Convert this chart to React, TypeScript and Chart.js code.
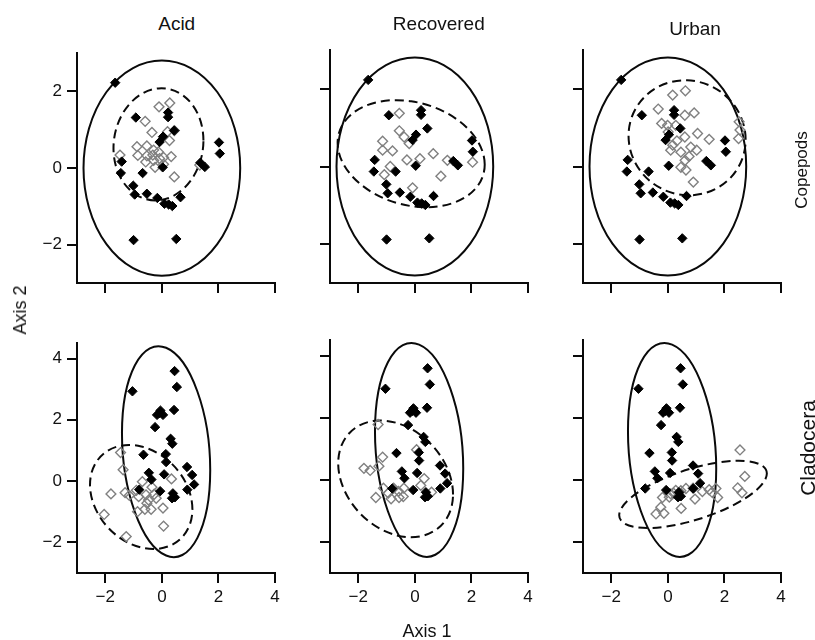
import React, { useEffect, useRef } from "react";
import { Chart, registerables } from "chart.js";

Chart.register(...registerables);

type Pt = [number, number];

// ---- labels ----
const columnTitles = ["Acid", "Recovered", "Urban"];
const rowTitles = ["Copepods", "Cladocera"];
const xAxisTitle = "Axis 1";
const yAxisTitle = "Axis 2";

// ---- ticks / ranges ----
const xRange = [-3, 4];
const xTicks = [-2, 0, 2, 4];
const copepodYRange = [-3, 3];
const copepodYTicks = [-2, 0, 2];
const cladoceraYRange = [-3, 4.5];
const cladoceraYTicks = [-2, 0, 2, 4];

// ---- Copepods: reference sites (filled, same in every column) ----
const copepodReference: Pt[] = [
  [-1.65, 2.23], [-0.92, 1.32], [0.22, 1.45], [0.22, 1.33], [0.44, 0.98],
  [0.04, 0.82], [-0.08, 0.68], [2.02, 0.67], [2.05, 0.38], [-1.42, 0.17],
  [-1.45, -0.13], [-0.68, -0.13], [0.03, 0.02], [-1.01, -0.46], [-0.96, -0.69],
  [-0.53, -0.67], [-0.16, -0.78], [0.09, -0.93], [0.24, -0.95], [0.37, -0.99],
  [0.66, -0.76], [1.36, 0.14], [1.52, 0.03], [-1.0, -1.88], [0.51, -1.85],
];

// ---- Copepods: impacted sites (open) ----
const copepodAcid: Pt[] = [
  [-0.1, 1.6], [0.28, 1.7], [-0.59, 1.22], [-0.35, 0.93], [0.2, 0.95],
  [0.44, 0.98], [0.27, 0.72], [-0.88, 0.56], [-0.53, 0.58], [-0.29, 0.47],
  [-0.85, 0.33], [-0.53, 0.32], [-0.32, 0.34], [-0.57, 0.16], [-0.29, 0.2],
  [-0.08, 0.25], [0.06, 0.28], [0.33, 0.3], [-0.24, 0.02], [0.06, 0.1],
  [-1.48, 0.34], [0.44, -0.23], [1.34, 0.08], [-0.12, 0.42],
];
const copepodRecovered: Pt[] = [
  [-0.55, 1.37], [-0.55, 0.92], [-0.38, 0.76], [-0.2, 0.59], [-1.14, 0.65],
  [-1.14, 0.42], [-0.79, 0.4], [-0.28, 0.17], [0.18, 0.2], [0.65, 0.33],
  [1.15, 0.16], [2.04, 0.11], [0.92, -0.25], [-0.87, 0.0], [-1.08, -0.21],
  [-0.08, -0.55],
];
const copepodUrban: Pt[] = [
  [0.17, 1.84], [0.62, 1.95], [-0.34, 1.48], [0.6, 1.32], [0.93, 1.38],
  [-0.22, 1.11], [-0.01, 1.06], [0.28, 1.06], [0.01, 0.89], [0.32, 0.66],
  [0.6, 0.76], [1.05, 0.85], [1.46, 0.7], [0.17, 0.55], [0.46, 0.37],
  [0.81, 0.5], [1.02, 0.42], [0.75, 0.26], [0.61, 0.16], [0.46, -0.02],
  [0.64, -0.09], [0.9, -0.4], [2.52, 1.15], [2.55, 0.94], [2.5, 0.72],
  [0.1, 0.42],
];

// ---- Cladocera: reference sites (filled) ----
const cladoceraReference: Pt[] = [
  [0.45, 3.59], [0.53, 3.07], [-1.04, 2.93], [0.43, 2.32], [-0.05, 2.3],
  [-0.17, 2.16], [0.04, 2.16], [-0.08, 2.22], [-0.24, 1.76], [0.31, 1.38],
  [0.37, 1.22], [0.14, 0.88], [0.15, 0.62], [-0.65, 0.86], [0.89, 0.46],
  [-0.46, 0.27], [-0.37, 0.05], [0.08, 0.22], [-0.8, -0.28], [-0.06, -0.33],
  [1.07, 0.2], [1.14, -0.11], [0.9, -0.28], [0.39, -0.4], [0.46, -0.53],
  [0.36, -0.56],
];

// ---- Cladocera: impacted sites (open) ----
const cladoceraAcid: Pt[] = [
  [-1.46, 0.93], [-1.37, 0.37], [-1.8, -0.42], [-1.3, -0.38], [-1.15, -0.47],
  [-0.69, -0.02], [-0.9, -0.3], [-0.82, -0.51], [-0.56, -0.45], [-0.47, -0.62],
  [-0.27, -0.43], [-0.2, -0.56], [-0.53, -0.72], [-0.86, -1.0], [-0.6, -0.92],
  [0.04, -0.88], [0.34, 0.07], [-2.04, -1.09], [-1.26, -1.81], [0.06, -1.47],
  [-0.35, -0.2], [-0.38, -0.92],
];
const cladoceraRecovered: Pt[] = [
  [-1.3, 1.78], [-1.14, 0.73], [-1.27, 0.44], [-1.8, 0.37], [-1.58, 0.3],
  [0.06, 0.97], [0.33, 0.04], [0.21, -0.18], [-1.11, -0.27], [-0.75, -0.27],
  [-0.39, -0.27], [-0.94, -0.43], [-0.58, -0.37], [-1.38, -0.57], [-0.84, -0.61],
  [-0.56, -0.57], [-0.41, -0.54], [0.59, -0.4],
];
const cladoceraUrban: Pt[] = [
  [2.55, 0.96], [2.72, 0.11], [2.47, -0.26], [2.62, -0.42], [1.7, -0.28],
  [1.56, -0.4], [1.76, -0.57], [1.46, -0.32], [1.22, -0.38], [0.96, -0.62],
  [0.89, -0.27], [0.64, -0.28], [0.46, -0.35], [0.28, -0.34], [0.05, -0.56],
  [-0.19, -0.57], [0.47, -0.92], [-0.14, -1.08], [-0.42, -1.1], [-0.25, -0.88],
  [0.2, -0.43], [0.1, -0.45],
];

// ---- ellipses: [centre x, centre y, half width, y offset of rightmost point, half vertical chord] ----
const copepodReferenceEllipse = [0, 0, 2.77, 0, 2.81];
const copepodAcidEllipse = [-0.12, 0.62, 1.59, 0.1, 1.46];
const copepodRecoveredEllipse = [-0.13, 0.33, 2.6, -0.28, 1.35];
const copepodUrbanEllipse = [0.68, 0.74, 2.07, -0.05, 1.48];
const cladoceraReferenceEllipse = [0.15, 0.96, 1.56, -0.6, 3.39];
const cladoceraAcidEllipse = [-0.73, -0.52, 1.81, -0.4, 1.65];
const cladoceraRecoveredEllipse = [-0.68, 0.03, 2.03, -0.5, 1.81];
const cladoceraUrbanEllipse = [0.89, -0.47, 2.61, 0.67, 0.85];

const FONT = '"Liberation Sans", Arial, Helvetica, sans-serif';

const PLOT_W = 198;
const PLOT_H = 233;
const Y_AXIS_W = 70;
const X_AXIS_H = 50;
const PAD_TOP = 12;
const PAD_RIGHT = 14;
const colLefts = [77, 330, 583];
const rowTops = [50, 340];

type PanelProps = {
  left: number;
  top: number;
  filled: Pt[];
  open: Pt[];
  solid: number[];
  dashed: number[];
  yRange: number[];
  yTicks: number[];
  showX: boolean;
  showY: boolean;
};

const fmt = (v: number | string) => {
  const n = Number(v);
  return n < 0 ? "\u2212" + Math.abs(n) : String(n);
};

function Panel(p: PanelProps) {
  const ref = useRef<HTMLCanvasElement>(null);
  const cw = Y_AXIS_W + PLOT_W + PAD_RIGHT;
  const chh = PAD_TOP + PLOT_H + X_AXIS_H;

  useEffect(() => {
    const ellipses = [
      { params: p.solid, dash: [] as number[], width: 2 },
      { params: p.dashed, dash: [9, 5], width: 2 },
    ];
    const ellipsePlugin = {
      id: "ellipses",
      beforeDatasetsDraw(chart: any) {
        const ctx: CanvasRenderingContext2D = chart.ctx;
        const xs = chart.scales.x;
        const ys = chart.scales.y;
        for (const e of ellipses) {
          const [cx, cy, hw, sh, hv] = e.params;
          const px = xs.getPixelForValue(cx);
          const py = ys.getPixelForValue(cy);
          const ax = xs.getPixelForValue(cx + hw) - px;
          const ay = ys.getPixelForValue(cy + sh) - py;
          const by = ys.getPixelForValue(cy + hv) - py;
          ctx.save();
          ctx.beginPath();
          ctx.transform(ax, ay, 0, by, px, py);
          ctx.arc(0, 0, 1, 0, Math.PI * 2);
          ctx.restore();
          ctx.save();
          ctx.lineWidth = e.width;
          ctx.strokeStyle = "#0a0a0a";
          ctx.setLineDash(e.dash);
          ctx.stroke();
          ctx.restore();
        }
      },
    };

    const axisCommon = {
      grid: {
        display: true,
        drawOnChartArea: false,
        drawTicks: true,
        tickLength: 10,
        tickColor: "#0a0a0a",
        tickWidth: 2,
        color: "#0a0a0a",
        lineWidth: 2,
      },
      border: { display: true, color: "#0a0a0a", width: 2 },
    };

    const chart = new Chart(ref.current as HTMLCanvasElement, {
      type: "scatter",
      data: {
        datasets: [
          {
            label: "reference",
            data: p.filled.map(([x, y]) => ({ x, y })),
            pointStyle: "rectRot",
            pointRadius: 4.7,
            backgroundColor: "#000",
            borderColor: "#000",
            borderWidth: 1,
          },
          {
            label: "impacted",
            data: p.open.map(([x, y]) => ({ x, y })),
            pointStyle: "rectRot",
            pointRadius: 4.9,
            backgroundColor: "rgba(255,255,255,0)",
            borderColor: "#808080",
            borderWidth: 1.4,
          },
        ],
      },
      options: {
        animation: false,
        responsive: false,
        devicePixelRatio: 1,
        events: [],
        layout: {
          autoPadding: false,
          padding: { left: 0, right: PAD_RIGHT, top: PAD_TOP, bottom: 0 },
        },
        plugins: {
          legend: { display: false },
          tooltip: { enabled: false },
          title: { display: false },
        },
        scales: {
          x: {
            type: "linear",
            min: xRange[0],
            max: xRange[1],
            ...axisCommon,
            afterBuildTicks: (s: any) => {
              s.ticks = xTicks.map((v) => ({ value: v }));
            },
            afterFit: (s: any) => {
              s.height = X_AXIS_H;
            },
            ticks: {
              display: p.showX,
              padding: 4,
              color: "#111",
              font: { family: FONT, size: 17 },
              maxRotation: 0,
              callback: fmt,
            },
          },
          y: {
            type: "linear",
            min: p.yRange[0],
            max: p.yRange[1],
            ...axisCommon,
            afterBuildTicks: (s: any) => {
              s.ticks = p.yTicks.map((v) => ({ value: v }));
            },
            afterFit: (s: any) => {
              s.width = Y_AXIS_W;
            },
            ticks: {
              display: p.showY,
              padding: 5,
              color: "#111",
              font: { family: FONT, size: 17 },
              callback: fmt,
            },
          },
        },
      } as any,
      plugins: [ellipsePlugin],
    });
    return () => chart.destroy();
  }, []);

  return (
    <canvas
      ref={ref}
      width={cw}
      height={chh}
      style={{
        position: "absolute",
        left: p.left - Y_AXIS_W,
        top: p.top - PAD_TOP,
        width: cw,
        height: chh,
      }}
    />
  );
}

function Label(props: {
  x: number;
  y: number;
  size: number;
  text: string;
  rotate?: boolean;
}) {
  return (
    <div
      style={{
        position: "absolute",
        left: props.x,
        top: props.y,
        transform: props.rotate
          ? "translate(-50%, -50%) rotate(-90deg)"
          : "translate(-50%, -50%)",
        fontFamily: FONT,
        fontSize: props.size,
        lineHeight: 1,
        whiteSpace: "nowrap",
        color: "#111",
      }}
    >
      {props.text}
    </div>
  );
}

export default function App() {
  const filledByRow = [copepodReference, cladoceraReference];
  const openByRow = [
    [copepodAcid, copepodRecovered, copepodUrban],
    [cladoceraAcid, cladoceraRecovered, cladoceraUrban],
  ];
  const solidByRow = [copepodReferenceEllipse, cladoceraReferenceEllipse];
  const dashedByRow = [
    [copepodAcidEllipse, copepodRecoveredEllipse, copepodUrbanEllipse],
    [cladoceraAcidEllipse, cladoceraRecoveredEllipse, cladoceraUrbanEllipse],
  ];
  const yRanges = [copepodYRange, cladoceraYRange];
  const yTickSets = [copepodYTicks, cladoceraYTicks];

  const titlePos = [
    [176.7, 22.5],
    [438.8, 22.5],
    [695, 28],
  ];

  return (
    <div
      style={{
        position: "fixed",
        left: 0,
        top: 0,
        width: 815,
        height: 640,
        background: "#fff",
        overflow: "hidden",
      }}
    >
      {[0, 1].map((r) =>
        [0, 1, 2].map((c) => (
          <Panel
            key={`${r}-${c}`}
            left={colLefts[c]}
            top={rowTops[r]}
            filled={filledByRow[r]}
            open={openByRow[r][c]}
            solid={solidByRow[r]}
            dashed={dashedByRow[r][c]}
            yRange={yRanges[r]}
            yTicks={yTickSets[r]}
            showX={r === 1}
            showY={c === 0}
          />
        ))
      )}
      {columnTitles.map((t, i) => (
        <Label key={t} x={titlePos[i][0]} y={titlePos[i][1]} size={19} text={t} />
      ))}
      <Label x={801} y={170} size={17} text={rowTitles[0]} rotate />
      <Label x={807} y={448} size={21} text={rowTitles[1]} rotate />
      <Label x={427} y={631} size={18} text={xAxisTitle} />
      <Label x={20} y={310} size={18} text={yAxisTitle} rotate />
    </div>
  );
}
